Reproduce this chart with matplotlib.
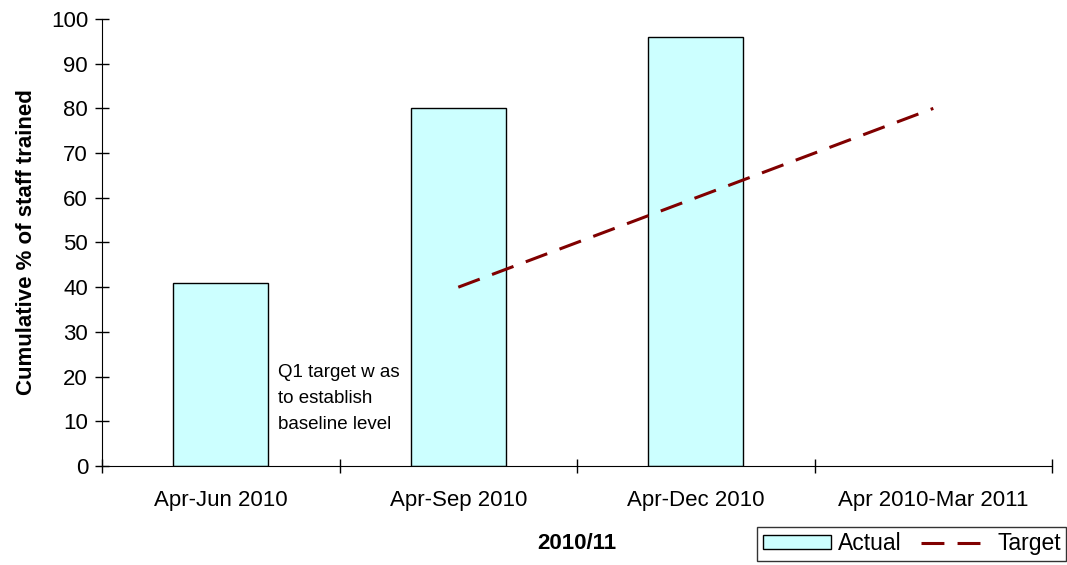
import matplotlib.pyplot as plt
import numpy as np
from matplotlib.lines import Line2D
from matplotlib.patches import Patch

plt.rcParams['font.family'] = ['Liberation Sans', 'DejaVu Sans']

periods = ['Apr-Jun 2010', 'Apr-Sep 2010', 'Apr-Dec 2010', 'Apr 2010-Mar 2011']
actual = [41, 80, 96, None]
target = [None, 40, 60, 80]

fig = plt.figure(figsize=(10.67, 5.65), dpi=100)
ax = fig.add_axes([0.0956, 0.1752, 0.8904, 0.7912])

x = np.arange(len(periods))
bar_x = [i for i, v in zip(x, actual) if v is not None]
bar_y = [v for v in actual if v is not None]
ax.bar(bar_x, bar_y, width=0.4, color='#CCFFFF', edgecolor='black', linewidth=1.0, zorder=2)

tx = [i for i, v in zip(x, target) if v is not None]
ty = [v for v in target if v is not None]
ax.plot(tx, ty, color='#800000', linewidth=2.2, dashes=(7.5, 4.3), zorder=3)

ax.set_xlim(-0.5, len(periods) - 0.5)
ax.set_ylim(0, 100)
ax.set_yticks(range(0, 101, 10))
ax.tick_params(axis='y', direction='inout', length=10, width=1, labelsize=16, pad=5)
ax.set_xticks(x)
ax.set_xticklabels(periods, fontsize=16)
ax.tick_params(axis='x', length=0, pad=17)
ax.set_xticks(np.arange(-0.5, len(periods) + 0.5, 1), minor=True)
ax.tick_params(axis='x', which='minor', direction='inout', length=10, width=1)

for side in ['top', 'right']:
    ax.spines[side].set_visible(False)

ax.set_ylabel('Cumulative % of staff trained', fontsize=16, fontweight='bold', labelpad=10)
ax.set_xlabel('2010/11', fontsize=16, fontweight='bold', labelpad=16)

ax.text(0.24, 22.9, 'Q1 target w as\nto establish\nbaseline level',
        fontsize=13.5, va='top', ha='left', linespacing=1.7)

handles = [Patch(facecolor='#CCFFFF', edgecolor='black', label='Actual'),
           Line2D([0], [0], color='#800000', linewidth=2.2, dashes=(7.5, 4.3), label='Target')]
leg = fig.legend(handles=handles, loc='lower left', bbox_to_anchor=(757 / 1067, 4 / 565),
                 ncol=2, fontsize=16.5, frameon=True, fancybox=False, handlelength=3.0,
                 handleheight=0.6, columnspacing=0.85, handletextpad=0.3, borderpad=0.25,
                 borderaxespad=0)
leg.get_frame().set_edgecolor('black')
leg.get_frame().set_linewidth(1.0)

fig.savefig('out.png', dpi=100)
